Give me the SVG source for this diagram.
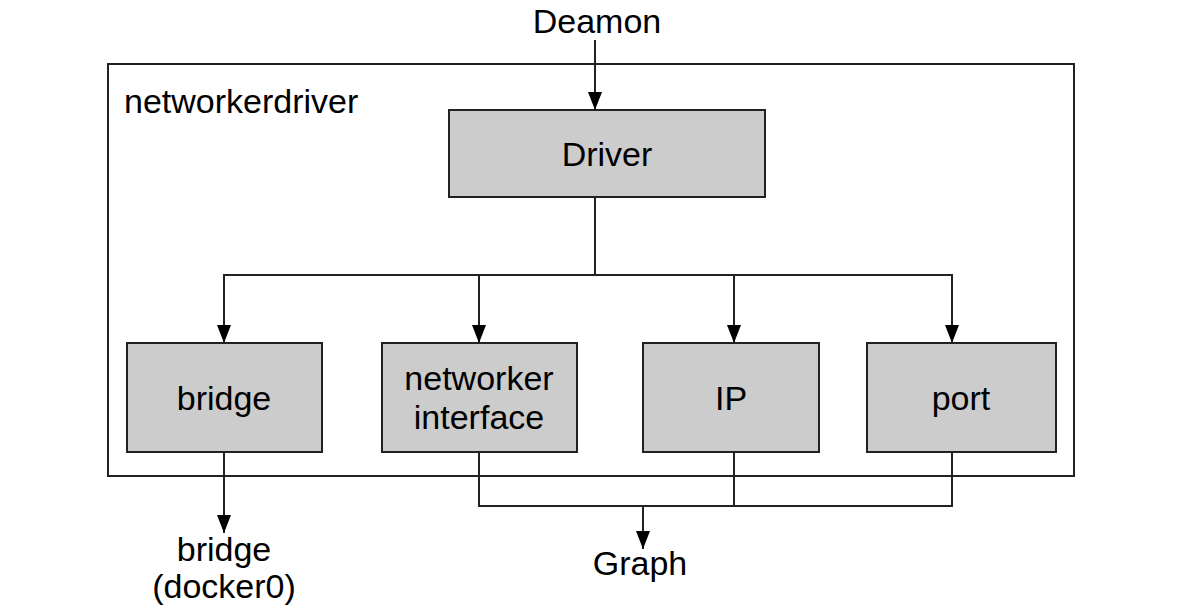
<svg xmlns="http://www.w3.org/2000/svg" width="1196" height="610" viewBox="0 0 1196 610">
<style>
.box{fill:#cccccc;stroke:#222;stroke-width:2}
.frame{fill:none;stroke:#222;stroke-width:2}
.ln{fill:none;stroke:#222;stroke-width:2}
text{font-family:"Liberation Sans",Arial,sans-serif;font-size:34px;fill:#000}
.c{text-anchor:middle}
</style>
<defs>
<marker id="ah" markerWidth="18" markerHeight="14" refX="18" refY="7" orient="auto" markerUnits="userSpaceOnUse" viewBox="0 0 18 14">
<path d="M0,0 L18,7 L0,14 Z" fill="#000"/>
</marker>
</defs>
<rect width="1196" height="610" fill="#fff"/>
<g id="container">
<rect class="frame" x="108" y="64" width="966" height="412"/>
<text x="124" y="113">networkerdriver</text>
</g>
<g id="deamon"><text class="c" x="597" y="33">Deamon</text></g>
<g id="driver"><rect class="box" x="449" y="110" width="316" height="87"/><text class="c" x="607" y="166">Driver</text></g>
<g id="bridge"><rect class="box" x="127" y="343" width="195" height="109"/><text class="c" x="224" y="410">bridge</text></g>
<g id="netif"><rect class="box" x="382" y="343" width="195" height="109"/><text class="c" x="479" y="390">networker</text><text class="c" x="479" y="429">interface</text></g>
<g id="ip"><rect class="box" x="643" y="343" width="176" height="109"/><text class="c" x="731" y="410">IP</text></g>
<g id="port"><rect class="box" x="867" y="343" width="189" height="109"/><text class="c" x="961" y="410">port</text></g>
<g id="docker0"><text class="c" x="224" y="561">bridge</text><text class="c" x="224" y="598">(docker0)</text></g>
<g id="graph"><text class="c" x="640" y="575">Graph</text></g>
<g id="connectors">
<line class="ln" x1="595" y1="40" x2="595" y2="110" marker-end="url(#ah)"/>
<line class="ln" x1="595" y1="197" x2="595" y2="275"/>
<line class="ln" x1="223" y1="275" x2="953" y2="275"/>
<line class="ln" x1="224" y1="275" x2="224" y2="343" marker-end="url(#ah)"/>
<line class="ln" x1="479" y1="275" x2="479" y2="343" marker-end="url(#ah)"/>
<line class="ln" x1="734" y1="275" x2="734" y2="343" marker-end="url(#ah)"/>
<line class="ln" x1="952" y1="275" x2="952" y2="343" marker-end="url(#ah)"/>
<line class="ln" x1="224" y1="452" x2="224" y2="533" marker-end="url(#ah)"/>
<polyline class="ln" points="479,452 479,506 952,506 952,452"/>
<line class="ln" x1="734" y1="452" x2="734" y2="506"/>
<line class="ln" x1="643" y1="506" x2="643" y2="549" marker-end="url(#ah)"/>
</g>
</svg>
